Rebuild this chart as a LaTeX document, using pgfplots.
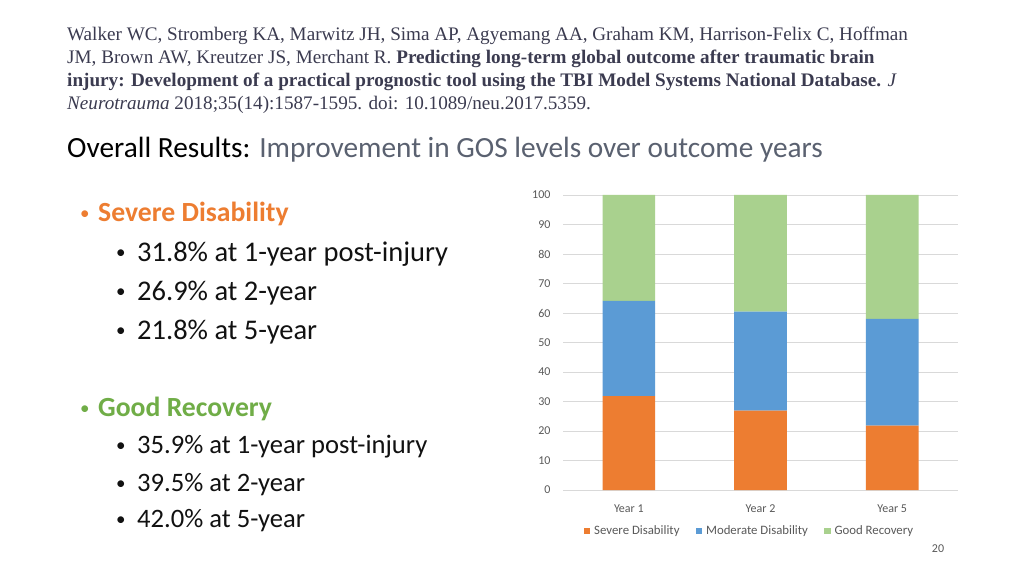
\documentclass[border=0pt]{standalone}
\usepackage{pgfplots}
\pgfplotsset{compat=1.18}
\usepackage{fontspec}
\setmainfont{Carlito}
\newfontfamily\timesf{Liberation Serif}
\definecolor{sevc}{HTML}{ED7D31}
\definecolor{modc}{HTML}{5B9BD5}
\definecolor{goodc}{HTML}{A9D18E}
\definecolor{gridc}{HTML}{D9D9D9}
\definecolor{tickc}{HTML}{595959}
\definecolor{citec}{HTML}{3B3B50}
\definecolor{subt}{HTML}{5A6170}
\definecolor{bodyc}{HTML}{111111}
\definecolor{greenh}{HTML}{70AD47}
\newcommand{\sbul}[1]{\makebox[#1][l]{\raisebox{2.5pt}{\fontsize{19}{19}\selectfont\textbullet}}}
\begin{document}
\begin{tikzpicture}[x=1pt,y=1pt]
\fill[white] (0,0) rectangle (1024,576);
% citation
\begin{scope}[every node/.style={anchor=west,inner sep=0pt,text=citec,font=\timesf\fontsize{19.15}{22}\selectfont}]
\node at (67,540) {Walker WC, Stromberg KA, Marwitz JH, Sima AP, Agyemang AA, Graham KM, Harrison-Felix C, Hoffman};
\node at (67,517) {JM, Brown AW, Kreutzer JS, Merchant R. \textbf{Predicting long-term global outcome after traumatic brain}};
\node at (67,494) {\textbf{injury: Development of a practical prognostic tool using the TBI Model Systems National Database.} \textit{J}};
\node at (67,471) {\textit{Neurotrauma} 2018;35(14):1587-1595. doi: 10.1089/neu.2017.5359.};
\end{scope}
% title
\node[anchor=west,inner sep=0pt,font=\fontsize{29.3}{34}\selectfont] at (67,426) {\textcolor{black}{Overall Results:} \textcolor{subt}{Improvement in GOS levels over outcome years}};
% bullets
\begin{scope}[every node/.style={anchor=west,inner sep=0pt}]
\node[font=\fontsize{27.7}{32}\selectfont,text=sevc] at (80,362) {\sbul{18pt}\textbf{Severe Disability}};
\node[font=\fontsize{28.5}{32}\selectfont,text=bodyc] at (116,322) {\sbul{21pt}31.8\% at 1-year post-injury};
\node[font=\fontsize{28.5}{32}\selectfont,text=bodyc] at (116,283) {\sbul{21pt}26.9\% at 2-year};
\node[font=\fontsize{28.5}{32}\selectfont,text=bodyc] at (116,244) {\sbul{21pt}21.8\% at 5-year};
\node[font=\fontsize{27.7}{32}\selectfont,text=greenh] at (80,167) {\sbul{18pt}\textbf{Good Recovery}};
\node[font=\fontsize{26.6}{30}\selectfont,text=bodyc] at (116,129) {\sbul{21pt}35.9\% at 1-year post-injury};
\node[font=\fontsize{26.6}{30}\selectfont,text=bodyc] at (116,91) {\sbul{21pt}39.5\% at 2-year};
\node[font=\fontsize{26.6}{30}\selectfont,text=bodyc] at (116,55) {\sbul{21pt}42.0\% at 5-year};
\end{scope}
\node[anchor=center,inner sep=0pt,text=tickc,font=\fontsize{12}{14}\selectfont] at (938,27) {20};
\begin{axis}[
  at={(563pt,86pt)}, anchor=south west,
  width=395pt, height=295pt, scale only axis,
  ybar stacked, bar width=0.4,
  xmin=-0.5, xmax=2.5, ymin=0, ymax=100,
  xtick={0,1,2}, xticklabels={Year 1,Year 2,Year 5},
  ytick={0,10,...,100},
  ymajorgrids, grid style={gridc, line width=0.8pt},
  axis line style={draw=none},
  axis x line*=bottom,
  x axis line style={gridc,line width=0.8pt},
  major tick length=0pt,
  tick label style={text=tickc, font=\fontsize{12}{14}\selectfont},
  /pgf/number format/assume math mode=true,
  yticklabel style={xshift=-9pt},
  xticklabel style={yshift=-11pt},
  legend style={at={(0.472,-0.139)}, anchor=center, draw=none, legend columns=3,
     font=\fontsize{12.8}{14}\selectfont, text=tickc,
     /tikz/every odd column/.append style={column sep=2pt},
     /tikz/every even column/.append style={column sep=14pt}},
  legend image code/.code={\fill[#1] (0pt,-3.2pt) rectangle (6.5pt,3.2pt);},
  clip=false,
]
\addplot[fill=sevc, draw=none] coordinates {(0,31.8) (1,26.9) (2,21.8)};
\addplot[fill=modc, draw=none] coordinates {(0,32.3) (1,33.6) (2,36.2)};
\addplot[fill=goodc, draw=none] coordinates {(0,35.9) (1,39.5) (2,42.0)};
\legend{Severe Disability, Moderate Disability, Good Recovery}
\end{axis}
\end{tikzpicture}
\end{document}
